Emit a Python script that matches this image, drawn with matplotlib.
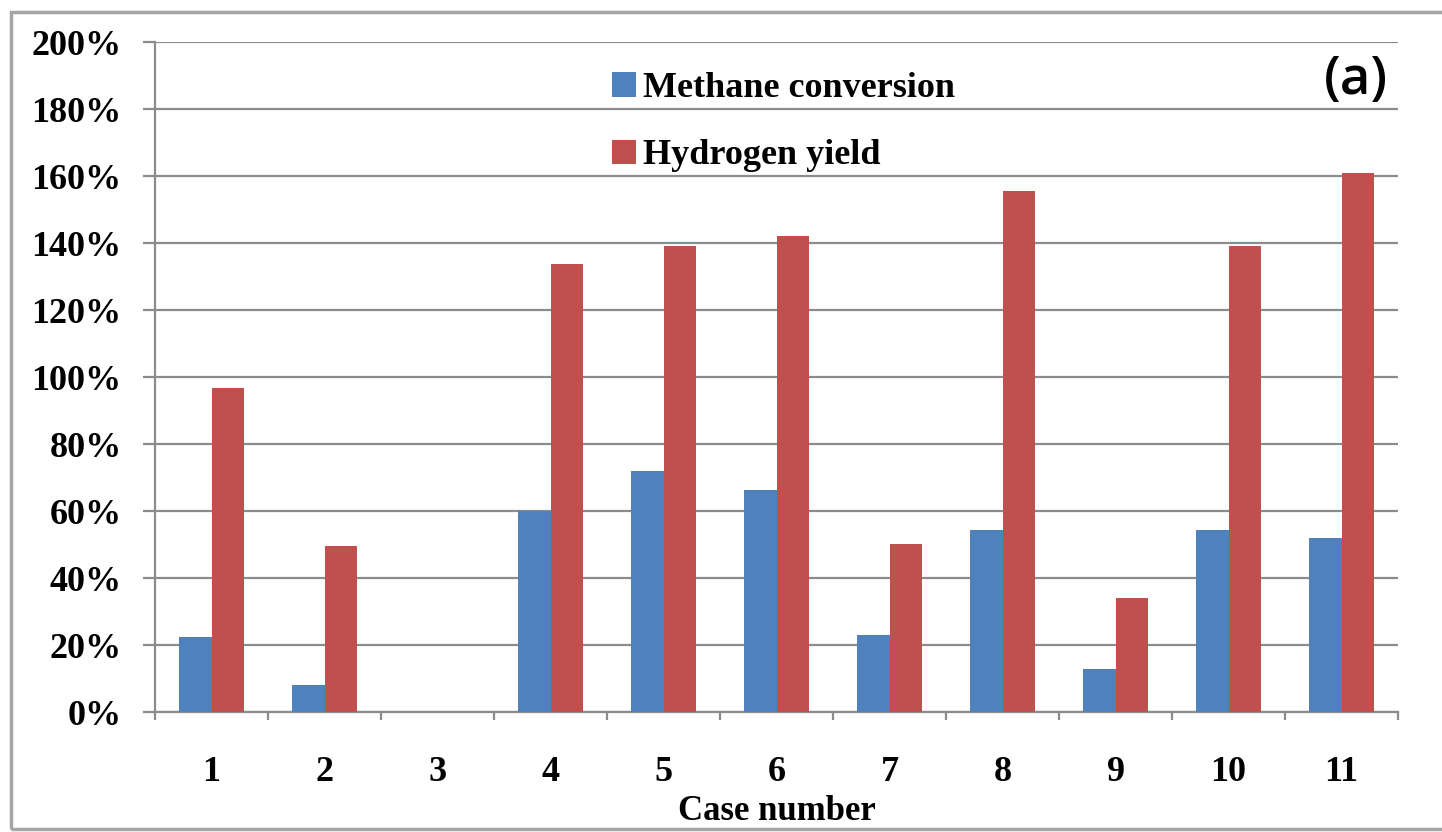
import numpy as np
import matplotlib.pyplot as plt
from matplotlib.patches import Rectangle

cases = ['1', '2', '3', '4', '5', '6', '7', '8', '9', '10', '11']
methane = [22.4, 8.0, 0.0, 60.0, 72.0, 66.3, 23.0, 54.3, 12.8, 54.3, 52.0]  # %
hydrogen = [96.7, 49.5, 0.0, 133.7, 139.0, 142.0, 50.1, 155.6, 34.0, 139.0, 161.0]  # %
yticks = [0, 20, 40, 60, 80, 100, 120, 140, 160, 180, 200]

blue = '#4F81BD'
red = '#C0504D'
grey = '#8C8C8C'
serif = 'Liberation Serif'

fig = plt.figure(figsize=(14.42, 8.32), dpi=100)
ax = fig.add_axes([0.1075, 0.1442, 0.862, 0.8053])

# frame around the whole picture
fig.patches.append(Rectangle((11/1442, 3/832), 1.2, 817/832, transform=fig.transFigure,
                             fill=False, edgecolor='#A6A6A6', linewidth=2.5))

x = np.arange(len(cases))
w = 0.285
ax.bar(x - w/2, methane, w, color=blue, label='Methane conversion', zorder=3)
ax.bar(x + w/2, hydrogen, w, color=red, label='Hydrogen yield', zorder=3)

ax.set_xlim(-0.5, len(cases) - 0.5)
ax.set_ylim(0, 200)
ax.set_yticks(yticks)
ax.set_yticklabels(['{}%'.format(v) for v in yticks])
ax.set_xticks(x)
ax.set_xticklabels(cases)
ax.set_xticks(np.arange(len(cases) + 1) - 0.5, minor=True)

ax.grid(axis='y', color=grey, linewidth=1.6, zorder=0)
for s in ['top', 'right']:
    ax.spines[s].set_visible(False)
for s in ['left', 'bottom']:
    ax.spines[s].set_color(grey)
    ax.spines[s].set_linewidth(1.6)

ax.tick_params(axis='y', length=9, width=1.6, color=grey, pad=15)
ax.tick_params(axis='x', which='major', length=0, pad=32)
ax.tick_params(axis='x', which='minor', length=6, width=1.6, color=grey)

for lab in ax.get_yticklabels() + ax.get_xticklabels():
    lab.set_fontfamily(serif)
    lab.set_fontweight('bold')
    lab.set_fontsize(26)

ax.set_xlabel('Case number', fontfamily=serif, fontweight='bold', fontsize=25, labelpad=4)

leg = ax.legend(loc='upper left', bbox_to_anchor=(0.368, 0.955), frameon=False,
                prop={'family': serif, 'weight': 'bold', 'size': 26},
                handlelength=0.65, handleheight=0.65, handletextpad=0.2,
                labelspacing=0.95, borderaxespad=0, borderpad=0)

ax.text(0.992, 0.943, '(a)', transform=ax.transAxes, ha='right', va='center',
        fontsize=38, fontfamily='Open Sans', fontweight='semibold')

fig.savefig('out.png', dpi=100)
